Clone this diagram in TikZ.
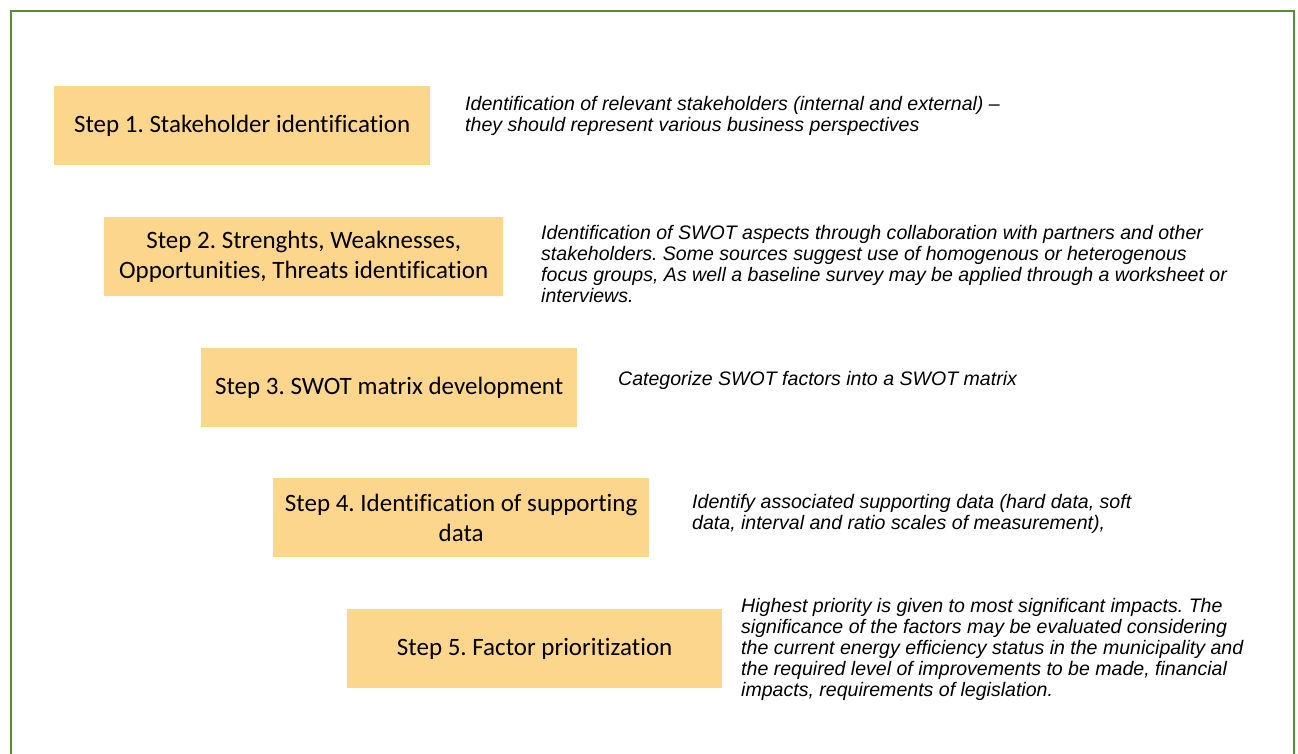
\documentclass[tikz,border=0pt]{standalone}
\usepackage{fontspec}
\newfontfamily\boxfont[Ligatures=NoCommon]{Carlito}
\newfontfamily\descfont{Liberation Sans}
\definecolor{stepfill}{RGB}{253,214,141}
\definecolor{framegreen}{RGB}{86,142,62}
\tikzset{
  stepbox/.style={fill=stepfill, draw=none, minimum width=376pt, minimum height=79pt,
    inner sep=0pt, align=center, font=\boxfont\fontsize{25}{30}\selectfont, anchor=north west},
  desc/.style={inner sep=0pt, align=left, anchor=west,
    font=\descfont\itshape\fontsize{19.55}{21}\selectfont}
}
\frenchspacing
\begin{document}
\begin{tikzpicture}[x=1pt,y=-1pt]
\useasboundingbox (0,0) rectangle (1298,754);
\clip (0,0) rectangle (1298,754);
\draw[framegreen, line width=2pt] (10.5,11) rectangle (1294,780);
\node[stepbox, minimum width=376pt] (s1) at (54,86) {Step 1. Stakeholder identification};
\node[stepbox, minimum width=399pt] (s2) at (104,217) {Step 2. Strenghts, Weaknesses,\\Opportunities, Threats identification};
\node[stepbox, minimum width=376pt] (s3) at (201,348) {Step 3. SWOT matrix development};
\node[stepbox, minimum width=376pt] (s4) at (273,478) {Step 4. Identification of supporting\\data};
\node[stepbox, minimum width=375pt] (s5) at (347,609) {Step 5. Factor prioritization};
\node[desc] (d1) at (465,116) {\frenchspacing Identification of relevant stakeholders (internal and external) \textendash\\they should represent various business perspectives};
\node[desc] (d2) at (541,264.5) {\frenchspacing Identification of SWOT aspects through collaboration with partners and other\\stakeholders. Some sources suggest use of homogenous or heterogenous\\focus groups, As well a baseline survey may be applied through a worksheet or\\interviews.};
\node[desc] (d3) at (618,380) {Categorize SWOT factors into a SWOT matrix};
\node[desc] (d4) at (692,514) {Identify associated supporting data (hard data, soft\\data, interval and ratio scales of measurement),};
\node[desc] (d5) at (741,649) {\frenchspacing Highest priority is given to most significant impacts. The\\significance of the factors may be evaluated considering\\the current energy efficiency status in the municipality and\\the required level of improvements to be made, financial\\impacts, requirements of legislation.};
\end{tikzpicture}
\end{document}
